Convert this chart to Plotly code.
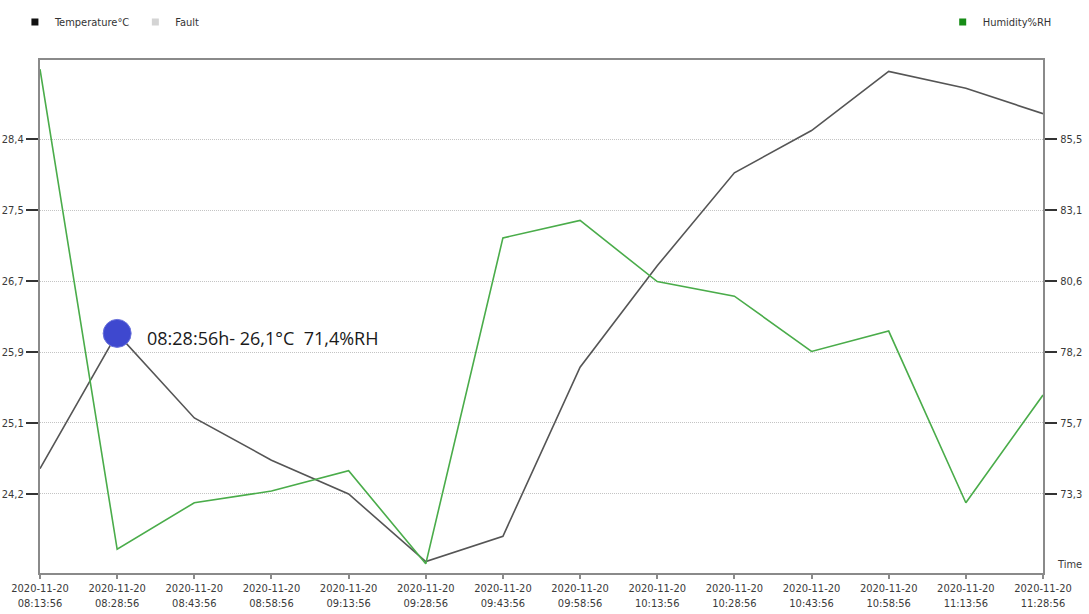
import plotly.graph_objects as go

# Readings taken every 15 minutes on 2020-11-20
date = "2020-11-20"
times = ["08:13:56", "08:28:56", "08:43:56", "08:58:56", "09:13:56", "09:28:56", "09:43:56",
         "09:58:56", "10:13:56", "10:28:56", "10:43:56", "10:58:56", "11:13:56", "11:28:56"]
temperature = [24.5, 26.1, 25.1, 24.6, 24.2, 23.4, 23.7, 25.7, 26.9, 28.0, 28.5, 29.2, 29.0, 28.7]
humidity = [87.9, 71.4, 73.0, 73.4, 74.1, 70.9, 82.1, 82.7, 80.6, 80.1, 78.2, 78.9, 73.0, 76.7]

# Axis scales (evenly spaced ticks, labels rounded by the logger software)
temp_ticks = [28.4, 27.56, 26.72, 25.88, 25.04, 24.2]
temp_labels = ["28,4", "27,5", "26,7", "25,9", "25,1", "24,2"]
temp_range = [23.265, 29.335]
hum_ticks = [85.5, 83.06, 80.62, 78.18, 75.74, 73.3]
hum_labels = ["85,5", "83,1", "80,6", "78,2", "75,7", "73,3"]
hum_range = [70.585, 88.215]

# Highlighted reading
marked_index = 1

narrow = "Liberation Sans Narrow, Arial Narrow, DejaVu Sans Condensed, sans-serif"
tick_color = "#3a3a3a"
frame_color = "#8a8a8a"

fig = go.Figure()

fig.add_trace(go.Scatter(
    x=times, y=temperature, mode="lines", name="Temperature°C",
    line=dict(color="#555555", width=1.6), showlegend=False, yaxis="y",
))
fig.add_trace(go.Scatter(
    x=times, y=humidity, mode="lines", name="Humidity%RH",
    line=dict(color="#4aac4a", width=1.6), showlegend=False, yaxis="y2",
))

# Legend entries
fig.add_trace(go.Scatter(
    x=[None], y=[None], mode="markers", name="Temperature°C",
    marker=dict(symbol="square", size=7, color="#111111"), legend="legend",
))
fig.add_trace(go.Scatter(
    x=[None], y=[None], mode="markers", name="Fault",
    marker=dict(symbol="square", size=7, color="#d4d4d4"), legend="legend",
))
fig.add_trace(go.Scatter(
    x=[None], y=[None], mode="markers", name="Humidity%RH",
    marker=dict(symbol="square", size=7, color="#178c17"), legend="legend2", yaxis="y2",
))

# Marked reading
fig.add_trace(go.Scatter(
    x=[times[marked_index]], y=[temperature[marked_index]], mode="markers",
    marker=dict(size=28, color="#3e48cf", line=dict(color="#6a72dc", width=1)),
    showlegend=False, hoverinfo="skip",
))

label = "{}h- {}°C \u00a0{}%RH".format(
    times[marked_index],
    f"{temperature[marked_index]:.1f}".replace(".", ","),
    f"{humidity[marked_index]:.1f}".replace(".", ","),
)
fig.add_annotation(
    x=times[marked_index], y=temperature[marked_index], xref="x", yref="y",
    text=label, showarrow=False, xanchor="left", yanchor="middle",
    xshift=28, yshift=-5,
    font=dict(family="Open Sans, Noto Sans, sans-serif", size=18, color="#1a1a1a"),
)
fig.add_annotation(
    x=1.012, y=0, xref="paper", yref="paper", text="Time", showarrow=False,
    xanchor="left", yanchor="bottom", font=dict(family=narrow, size=11, color=tick_color),
)

fig.update_layout(
    width=1089, height=614,
    margin=dict(l=40, r=46, t=60, b=41, autoexpand=False),
    paper_bgcolor="white", plot_bgcolor="white",
    font=dict(family=narrow, size=11, color=tick_color),
    xaxis=dict(
        type="category", range=[0, len(times) - 1], automargin=False,
        tickvals=times, ticktext=[f"{date}<br>{t}" for t in times],
        showline=True, linecolor=frame_color, linewidth=2, mirror=True,
        ticks="outside", ticklen=4, tickwidth=1.5, tickcolor=frame_color,
        showgrid=False, zeroline=False,
        tickfont=dict(family=narrow, size=11, color=tick_color),
    ),
    yaxis=dict(
        range=temp_range, tickvals=temp_ticks, ticktext=temp_labels, automargin=False,
        showline=True, linecolor=frame_color, linewidth=2,
        ticks="outside", ticklen=12, tickwidth=2, tickcolor="#333333",
        showgrid=True, gridcolor="#c4c4c4", gridwidth=1, griddash="1px,1px",
        zeroline=False, tickfont=dict(family=narrow, size=11, color=tick_color),
    ),
    yaxis2=dict(
        range=hum_range, tickvals=hum_ticks, ticktext=hum_labels, automargin=False,
        overlaying="y", side="right",
        showline=True, linecolor=frame_color, linewidth=2,
        ticks="outside", ticklen=12, tickwidth=2, tickcolor="#333333",
        ticklabelstandoff=1,
        showgrid=False, zeroline=False,
        tickfont=dict(family=narrow, size=11, color=tick_color),
    ),
    legend=dict(
        orientation="h", x=-0.025, xanchor="left", y=1.074, yanchor="middle",
        font=dict(family=narrow, size=11, color="#333333"),
        bgcolor="rgba(0,0,0,0)", itemclick=False,
    ),
    legend2=dict(
        orientation="h", x=0.90, xanchor="left", y=1.074, yanchor="middle",
        font=dict(family=narrow, size=11, color="#333333"),
        bgcolor="rgba(0,0,0,0)", itemclick=False,
    ),
)

fig.write_html("out.html")
